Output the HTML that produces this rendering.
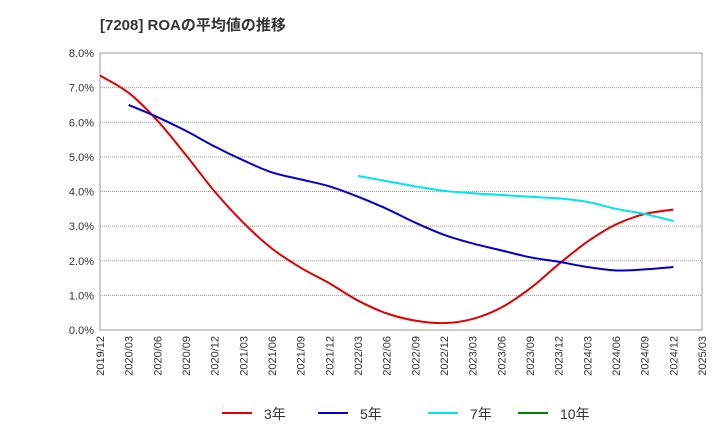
<!DOCTYPE html>
<html><head><meta charset="utf-8"><style>
body{margin:0;background:#fff;}
svg{display:block;font-family:"Liberation Sans","Noto Sans CJK JP",sans-serif;}
</style></head><body>
<svg id="chart" width="720" height="440">
<text x="100" y="30" font-size="15" font-weight="bold" fill="#333">[7208]  ROAの平均値の推移</text>
<g id="grid"></g><g id="axes"></g><g id="series"></g><g id="legend"></g>
</svg>
<script>
const categories=["2019/12","2020/03","2020/06","2020/09","2020/12","2021/03","2021/06","2021/09","2021/12","2022/03","2022/06","2022/09","2022/12","2023/03","2023/06","2023/09","2023/12","2024/03","2024/06","2024/09","2024/12","2025/03"];
const yTicks=[0,1,2,3,4,5,6,7,8];
const roa3=[7.35,6.85,6.05,5.05,4.0,3.1,2.35,1.8,1.35,0.85,0.48,0.27,0.2,0.32,0.65,1.2,1.9,2.55,3.05,3.35,3.48,null];
const roa5=[null,6.5,6.15,5.75,5.3,4.9,4.55,4.35,4.15,3.85,3.5,3.1,2.75,2.5,2.3,2.1,1.97,1.82,1.72,1.75,1.82,null];
const roa7=[null,null,null,null,null,null,null,null,null,4.45,4.3,4.15,4.02,3.95,3.9,3.85,3.8,3.7,3.5,3.35,3.15,null];
const roa10=[];
const NS="http://www.w3.org/2000/svg";
const L=100,R=702,T=53,B=330;
const xs=i=>L+(R-L)*i/(categories.length-1);
const ys=v=>B-(B-T)*v/8;
function mk(tag,attrs,parent){const e=document.createElementNS(NS,tag);for(const k in attrs)e.setAttribute(k,attrs[k]);parent.appendChild(e);return e;}
const grid=document.getElementById('grid'),axes=document.getElementById('axes'),ser=document.getElementById('series'),leg=document.getElementById('legend');
yTicks.forEach(v=>{
 const l=mk('line',{x1:L,x2:R,y1:ys(v),y2:ys(v),stroke:'#999','stroke-dasharray':v==0?'':'1,1'},grid);
 
 
 const t=mk('text',{x:L-6,y:ys(v)+4,'text-anchor':'end','font-size':11,fill:'#333'},axes);
 t.textContent=v.toFixed(1)+'%';
 
 
});
mk('rect',{x:L,y:T,width:R-L,height:B-T,fill:'none',stroke:'#999'},grid);
categories.forEach((c,i)=>{
 const t=mk('text',{transform:`translate(${xs(i)+4},${B+6}) rotate(-90)`,'text-anchor':'end','font-size':11,fill:'#333'},axes);
 t.textContent=c;
 
 
});
function path(data){
 const p=[];data.forEach((v,i)=>{if(v!=null)p.push([xs(i),ys(v)]);});
 if(p.length<2)return '';
 let d=`M${p[0][0]},${p[0][1]}`;
 for(let i=0;i<p.length-1;i++){
  const p0=p[i-1]||p[i],p1=p[i],p2=p[i+1],p3=p[i+2]||p2;
  d+=` C${p1[0]+(p2[0]-p0[0])/6},${p1[1]+(p2[1]-p0[1])/6} ${p2[0]-(p3[0]-p1[0])/6},${p2[1]-(p3[1]-p1[1])/6} ${p2[0]},${p2[1]}`;
 }
 return d;
}
const series=[["3年",roa3,"#e00000"],["5年",roa5,"#0000cc"],["7年",roa7,"#00e5ee"],["10年",roa10,"#008000"]];
const lx=[222,318,428,518];
series.forEach((s,k)=>{
 const d=path(s[1]);
 if(d){const p=mk('path',{d:d,fill:'none',stroke:s[2],'stroke-width':2},ser);
 
 }
 const g=mk('g',{},leg);
 
 
 mk('line',{x1:lx[k],x2:lx[k]+30,y1:413,y2:413,stroke:s[2],'stroke-width':2},g);
 const t=mk('text',{x:lx[k]+42,y:419,'font-size':14,fill:'#333'},g);
 t.textContent=s[0];
});
</script>
</body></html>
